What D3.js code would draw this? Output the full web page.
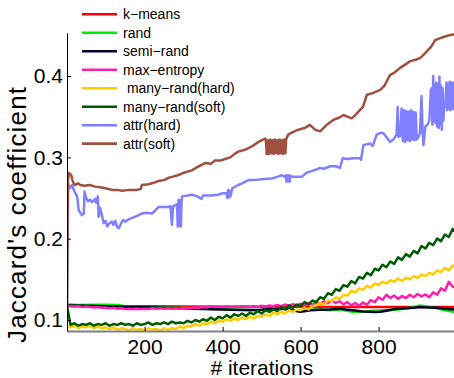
<!DOCTYPE html>
<html>
<head>
<meta charset="utf-8">
<script src="https://cdn.jsdelivr.net/npm/d3@7"></script>
<style>
  html, body { margin: 0; padding: 0; background: #fff; }
  svg { display: block; font-family: "Liberation Sans", Arial, Helvetica, sans-serif; }
</style>
</head>
<body>
<svg id="chart" width="454" height="378"></svg>
<script>
// ---------------- DATA ----------------
const seriesNames = ["k\u2212means", "rand", "semi\u2212rand", "max\u2212entropy", " many\u2212rand(hard)", "many\u2212rand(soft)", "attr(hard)", "attr(soft)"];
const seriesColors = ["#ff0000", "#00ee00", "#000033", "#ff1fae", "#ffcc00", "#005a00", "#8080ff", "#a0503f"];

const xTickValues = [200, 400, 600, 800];
const yTickValues = [0.1, 0.2, 0.3, 0.4];
const xDomain = [1, 1000];
const yDomain = [0.0865, 0.453];

// iterations shared by the densely sampled series (1, 10, 20, ... 1000)
const gridIters = [1].concat(d3.range(10, 1001, 10));

// k-means [iteration, value]
const kmeans = [[1,0.1185],[50,0.118],[100,0.1175],[150,0.117],[200,0.1168],[300,0.1165],[400,0.1163],[500,0.1162],[600,0.1162],[700,0.1161],[800,0.1161],[900,0.116],[1000,0.116]];

// rand [iteration, value]
const rand = [[1,0.119],[30,0.1185],[70,0.1187],[100,0.1189],[130,0.1185],[150,0.117],[180,0.116],[250,0.1155],[300,0.1148],[350,0.114],[400,0.1133],[450,0.1125],[470,0.112],[490,0.112],[520,0.1135],[550,0.1145],[575,0.113],[600,0.1115],[625,0.1125],[650,0.113],[675,0.112],[700,0.113],[734,0.110],[760,0.1105],[790,0.1115],[820,0.112],[846,0.1125],[870,0.114],[900,0.117],[906,0.118],[930,0.116],[949,0.1145],[970,0.112],[991,0.110],[1000,0.110]];

// semi-rand [iteration, value]
const semiRand = [[1,0.118],[25,0.1178],[50,0.1175],[75,0.1172],[100,0.1168],[125,0.1165],[150,0.1162],[175,0.116],[200,0.1158],[225,0.1155],[250,0.1152],[275,0.1148],[300,0.1145],[325,0.114],[350,0.1135],[375,0.1132],[400,0.1128],[425,0.1125],[450,0.1122],[470,0.1123],[500,0.1125],[525,0.1135],[547,0.114],[560,0.1135],[575,0.1125],[598,0.110],[610,0.1108],[625,0.112],[650,0.1125],[675,0.113],[701,0.114],[715,0.113],[734,0.112],[760,0.1105],[790,0.110],[805,0.1102],[820,0.1115],[846,0.114],[870,0.1145],[890,0.115],[906,0.116],[930,0.1155],[949,0.115],[970,0.114],[991,0.113],[1000,0.1135]];

// max-entropy (values at gridIters)
const maxEntropy = [0.117,0.117,0.1165,0.117,0.116,0.1165,0.116,0.1155,0.116,0.115,0.1155,
  0.1145,0.115,0.114,0.1145,0.1135,0.114,0.1135,0.114,0.1135,0.114,
  0.1135,0.1145,0.114,0.1145,0.114,0.1145,0.114,0.1145,0.114,0.115,
  0.1145,0.115,0.1155,0.115,0.116,0.1155,0.117,0.116,0.1165,0.116,
  0.117,0.116,0.1165,0.116,0.117,0.1165,0.116,0.117,0.116,0.1175,
  0.1165,0.118,0.117,0.1185,0.117,0.119,0.1175,0.1195,0.118,0.120,
  0.118,0.121,0.119,0.1215,0.120,0.123,0.1205,0.124,0.121,0.123,
  0.1195,0.122,0.118,0.121,0.1175,0.1215,0.119,0.1245,0.122,0.128,
  0.125,0.131,0.127,0.130,0.126,0.1295,0.127,0.131,0.128,0.132,
  0.129,0.1315,0.128,0.134,0.131,0.139,0.136,0.147,0.141,0.139];

// many-rand(hard) (values at gridIters)
const manyRandHard = [0.092,0.091,0.093,0.090,0.092,0.091,0.093,0.090,0.092,0.090,0.091,
  0.089,0.091,0.088,0.090,0.089,0.087,0.090,0.088,0.089,0.087,
  0.090,0.088,0.089,0.087,0.090,0.088,0.090,0.089,0.092,0.090,
  0.093,0.092,0.095,0.093,0.096,0.095,0.098,0.096,0.099,0.098,
  0.101,0.099,0.102,0.100,0.103,0.101,0.104,0.102,0.105,0.104,
  0.107,0.105,0.109,0.107,0.110,0.108,0.112,0.110,0.113,0.112,
  0.115,0.113,0.117,0.118,0.121,0.119,0.124,0.123,0.128,0.126,
  0.131,0.130,0.136,0.134,0.139,0.137,0.142,0.140,0.145,0.143,
  0.147,0.145,0.149,0.147,0.151,0.148,0.152,0.150,0.154,0.152,
  0.156,0.154,0.158,0.156,0.161,0.159,0.164,0.161,0.167,0.164];

// many-rand(soft) (values at gridIters)
const manyRandSoft = [0.118,0.094,0.096,0.093,0.095,0.094,0.096,0.093,0.095,0.094,0.096,
  0.093,0.095,0.094,0.096,0.094,0.095,0.093,0.096,0.094,0.095,
  0.097,0.094,0.096,0.095,0.097,0.095,0.098,0.096,0.097,0.096,
  0.099,0.097,0.100,0.098,0.101,0.099,0.103,0.100,0.104,0.102,
  0.106,0.103,0.107,0.105,0.108,0.105,0.109,0.107,0.111,0.108,
  0.112,0.110,0.113,0.111,0.116,0.113,0.118,0.115,0.119,0.117,
  0.122,0.119,0.124,0.122,0.128,0.126,0.133,0.131,0.138,0.136,
  0.143,0.141,0.148,0.145,0.153,0.151,0.158,0.155,0.163,0.161,
  0.168,0.165,0.172,0.169,0.177,0.174,0.181,0.178,0.185,0.182,
  0.191,0.188,0.195,0.192,0.200,0.197,0.205,0.202,0.212,0.207];

// attr(hard) [iteration, value]
const attrHard = [[1,0.118],[4,0.268],[8,0.262],[14,0.266],[20,0.258],[27,0.252],[31,0.235],[35,0.232],[39,0.229],[44,0.231],[46,0.258],[50,0.250],[55,0.246],[60,0.248],[65,0.245],[70,0.247],[73,0.249],[76,0.244],[80,0.252],[82,0.227],[86,0.238],[90,0.230],[95,0.219],[100,0.222],[104,0.215],[110,0.219],[116,0.221],[120,0.217],[125,0.222],[130,0.214],[134,0.213],[140,0.219],[145,0.223],[150,0.221],[160,0.224],[170,0.226],[176,0.227],[185,0.229],[193,0.231],[205,0.232],[219,0.231],[228,0.235],[236,0.239],[250,0.239],[262,0.239],[266,0.240],[270,0.217],[273,0.240],[283,0.242],[285,0.215],[287,0.248],[289,0.216],[291,0.247],[293,0.215],[295,0.248],[296,0.252],[310,0.253],[321,0.254],[335,0.252],[346,0.249],[350,0.253],[370,0.253],[389,0.254],[400,0.256],[406,0.256],[410,0.256],[412,0.250],[414,0.260],[416,0.251],[418,0.259],[420,0.252],[425,0.262],[440,0.266],[450,0.268],[466,0.272],[480,0.272],[500,0.273],[526,0.274],[540,0.276],[552,0.278],[560,0.276],[562,0.278],[564,0.270],[566,0.278],[568,0.271],[570,0.278],[572,0.270],[574,0.277],[580,0.276],[603,0.276],[615,0.281],[628,0.283],[640,0.285],[650,0.287],[660,0.286],[675,0.289],[690,0.289],[701,0.287],[708,0.299],[720,0.298],[735,0.299],[752,0.299],[755,0.297],[761,0.315],[770,0.316],[778,0.317],[785,0.314],[795,0.328],[805,0.330],[812,0.330],[820,0.325],[829,0.319],[838,0.322],[846,0.328],[849,0.362],[851,0.325],[855,0.326],[859,0.360],[862,0.320],[865,0.358],[868,0.319],[871,0.357],[874,0.321],[877,0.356],[880,0.320],[883,0.358],[886,0.322],[889,0.356],[892,0.321],[895,0.355],[898,0.322],[902,0.325],[906,0.330],[910,0.375],[913,0.330],[915,0.315],[920,0.338],[925,0.340],[930,0.345],[934,0.383],[936,0.385],[938,0.340],[940,0.400],[942,0.345],[944,0.390],[946,0.342],[948,0.392],[950,0.338],[952,0.390],[954,0.336],[956,0.399],[958,0.340],[960,0.388],[962,0.334],[964,0.385],[966,0.345],[968,0.360],[971,0.365],[974,0.392],[976,0.358],[978,0.390],[980,0.360],[982,0.393],[984,0.358],[986,0.392],[988,0.360],[990,0.392],[992,0.359],[994,0.391],[996,0.360],[1000,0.390]];

// attr(soft) [iteration, value]
const attrSoft = [[1,0.118],[3,0.270],[6,0.281],[10,0.279],[12,0.278],[15,0.272],[18,0.268],[21,0.266],[30,0.268],[35,0.266],[45,0.265],[60,0.266],[73,0.264],[90,0.263],[100,0.262],[116,0.260],[130,0.260],[142,0.259],[160,0.260],[180,0.260],[190,0.261],[193,0.266],[210,0.267],[225,0.269],[236,0.271],[250,0.272],[262,0.275],[270,0.276],[285,0.278],[300,0.281],[321,0.284],[335,0.288],[355,0.293],[370,0.292],[380,0.296],[395,0.296],[406,0.298],[420,0.300],[430,0.304],[440,0.307],[455,0.309],[473,0.313],[480,0.315],[492,0.319],[509,0.323],[511,0.321],[513,0.304],[516,0.321],[519,0.304],[522,0.322],[525,0.305],[528,0.321],[531,0.304],[534,0.322],[537,0.305],[540,0.321],[543,0.304],[546,0.322],[549,0.305],[552,0.321],[555,0.304],[558,0.322],[561,0.305],[563,0.322],[568,0.328],[580,0.331],[594,0.334],[610,0.336],[624,0.340],[637,0.334],[650,0.332],[667,0.340],[684,0.346],[700,0.349],[710,0.352],[720,0.350],[731,0.348],[740,0.352],[752,0.358],[760,0.362],[770,0.377],[785,0.379],[804,0.383],[815,0.388],[829,0.401],[840,0.404],[855,0.410],[868,0.414],[880,0.418],[895,0.420],[906,0.422],[915,0.426],[927,0.432],[935,0.436],[945,0.444],[955,0.446],[966,0.448],[980,0.450],[992,0.451],[1000,0.452]];

// ---------------- CHART ----------------
const gridPairs = vals => vals.map((v, i) => [gridIters[i], v]);
const allSeries = [kmeans, rand, semiRand, gridPairs(maxEntropy), gridPairs(manyRandHard), gridPairs(manyRandSoft), attrHard, attrSoft];

const svg = d3.select("#chart");
const plotLeft = 67, plotRight = 456.6, plotTop = 32.9, plotBottom = 331;

const x = d3.scaleLinear().domain(xDomain).range([plotLeft, plotRight]);
const y = d3.scaleLinear().domain(yDomain).range([plotBottom, plotTop]);

svg.append("defs").append("clipPath").attr("id", "clip")
  .append("rect").attr("x", plotLeft).attr("y", plotTop)
  .attr("width", plotRight - plotLeft).attr("height", plotBottom - plotTop);

const line = d3.line().x(d => x(d[0])).y(d => y(d[1]));

const lines = svg.append("g").attr("clip-path", "url(#clip)");
allSeries.forEach((s, i) => {
  lines.append("path").datum(s)
    .attr("d", line)
    .attr("fill", "none")
    .attr("stroke", seriesColors[i])
    .attr("stroke-width", 2.5)
    .attr("stroke-linejoin", "round");
});

// axes
const xAxis = d3.axisBottom(x).tickValues(xTickValues).tickFormat(d3.format("d"))
  .tickSizeInner(-4).tickSizeOuter(0).tickPadding(8);
const yAxis = d3.axisLeft(y).tickValues(yTickValues).tickFormat(d3.format(".1f"))
  .tickSizeInner(-4).tickSizeOuter(0).tickPadding(4);

const gx = svg.append("g").attr("transform", `translate(0,${plotBottom})`).call(xAxis);
const gy = svg.append("g").attr("transform", `translate(${plotLeft},0)`).call(yAxis);

[gx, gy].forEach(g => {
  g.selectAll("text").attr("font-size", 21).attr("fill", "#000")
    .attr("font-family", '"Liberation Sans", Arial, sans-serif');
  g.selectAll("line").attr("stroke", "#000");
});
gy.select(".domain").attr("stroke", "#000").attr("stroke-width", 1);
gx.select(".domain").attr("stroke", "#808080").attr("stroke-width", 2);

// axis titles
svg.append("text")
  .attr("x", (plotLeft + plotRight) / 2).attr("y", 375)
  .attr("text-anchor", "middle").attr("font-size", 21).attr("fill", "#000")
  .text("# iterations");

svg.append("text")
  .attr("transform", "translate(26,215) rotate(-90)")
  .attr("text-anchor", "middle").attr("font-size", 26).attr("fill", "#000")
  .attr("textLength", 256).attr("lengthAdjust", "spacing")
  .text("Jaccard's coefficient");

// legend
const legend = svg.append("g");
seriesNames.forEach((name, i) => {
  const ly = 14.3 + i * 18.48;
  legend.append("line").attr("x1", 82).attr("x2", 117).attr("y1", ly).attr("y2", ly)
    .attr("stroke", seriesColors[i]).attr("stroke-width", 2.6);
  legend.append("text").attr("x", 123).attr("y", ly + 5)
    .attr("font-size", 14).attr("fill", "#000")
    .attr("xml:space", "preserve").style("white-space", "pre")
    .text(name);
});
</script>
</body>
</html>
